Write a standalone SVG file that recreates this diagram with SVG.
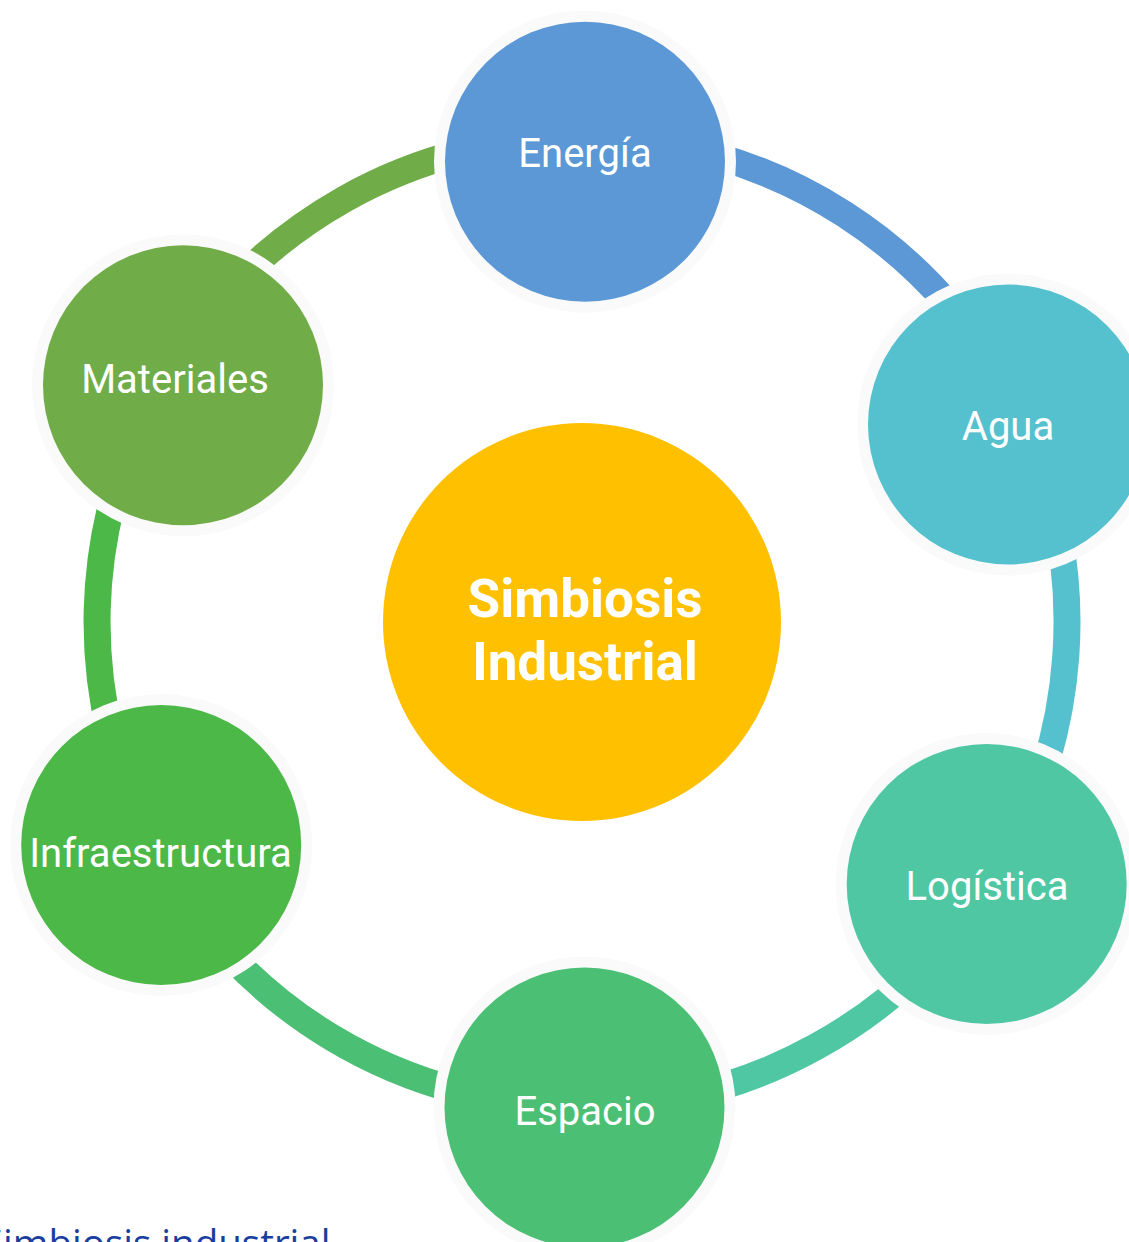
<svg xmlns="http://www.w3.org/2000/svg" width="1129" height="1242" viewBox="0 0 1129 1242">
<style>
.arc{fill:none;stroke-width:27;stroke-linecap:butt}
.halo{fill:#FAFAFA}
.lbl{font-family:Roboto,"Liberation Sans",sans-serif;font-size:40px;fill:#FFFFFF;text-anchor:middle}
.ctr{font-family:Roboto,"Liberation Sans",sans-serif;font-size:53px;font-weight:bold;fill:#FFFFFF;text-anchor:middle}
.cap{font-family:"Open Sans","Liberation Sans",sans-serif;font-size:38.5px;fill:#1A3E9E}
</style>
<rect x="0" y="0" width="1129" height="1242" fill="#FFFFFF"/>
<g id="connectors">
<path class="arc" stroke="#5B98D5" d="M585.4,137 A485,485 0 0 1 1021.9,417.8"/>
<path class="arc" stroke="#55C1CE" d="M1021.9,417.8 A485,485 0 0 1 989.2,885.5"/>
<path class="arc" stroke="#4FC7A3" d="M989.2,885.5 A485,485 0 0 1 584.5,1107"/>
<path class="arc" stroke="#4BC075" d="M584.5,1107 A485,485 0 0 1 153.4,848.9"/>
<path class="arc" stroke="#4CB847" d="M153.4,848.9 A485,485 0 0 1 165,374.4"/>
<path class="arc" stroke="#70AC48" d="M165,374.4 A485,485 0 0 1 585.4,137"/>
</g>
<g id="center">
<circle cx="582" cy="622" r="199" fill="#FFC000"/>
<text class="ctr" x="585" y="617">Simbiosis</text>
<text class="ctr" x="585" y="680">Industrial</text>
</g>
<g id="energia">
<circle class="halo" cx="585" cy="161.7" r="151"/>
<circle cx="585" cy="161.7" r="140" fill="#5B98D5"/>
<text class="lbl" x="585" y="167">Energía</text>
</g>
<g id="agua">
<circle class="halo" cx="1008" cy="424.5" r="151"/>
<circle cx="1008" cy="424.5" r="140" fill="#55C1CE"/>
<text class="lbl" x="1008" y="440">Agua</text>
</g>
<g id="logistica">
<circle class="halo" cx="986.7" cy="884" r="151"/>
<circle cx="986.7" cy="884" r="140" fill="#4FC7A3"/>
<text class="lbl" x="987" y="900">Logística</text>
</g>
<g id="espacio">
<circle class="halo" cx="584.5" cy="1107.5" r="151"/>
<circle cx="584.5" cy="1107.5" r="140" fill="#4BC075"/>
<text class="lbl" x="585" y="1125">Espacio</text>
</g>
<g id="infraestructura">
<circle class="halo" cx="161.2" cy="845" r="151"/>
<circle cx="161.2" cy="845" r="140" fill="#4CB847"/>
<text class="lbl" x="160.5" y="867">Infraestructura</text>
</g>
<g id="materiales">
<circle class="halo" cx="183" cy="385.3" r="151"/>
<circle cx="183" cy="385.3" r="140" fill="#70AC48"/>
<text class="lbl" x="175" y="393">Materiales</text>
</g>
<text class="cap" x="-18" y="1257">Simbiosis industrial</text>
</svg>
